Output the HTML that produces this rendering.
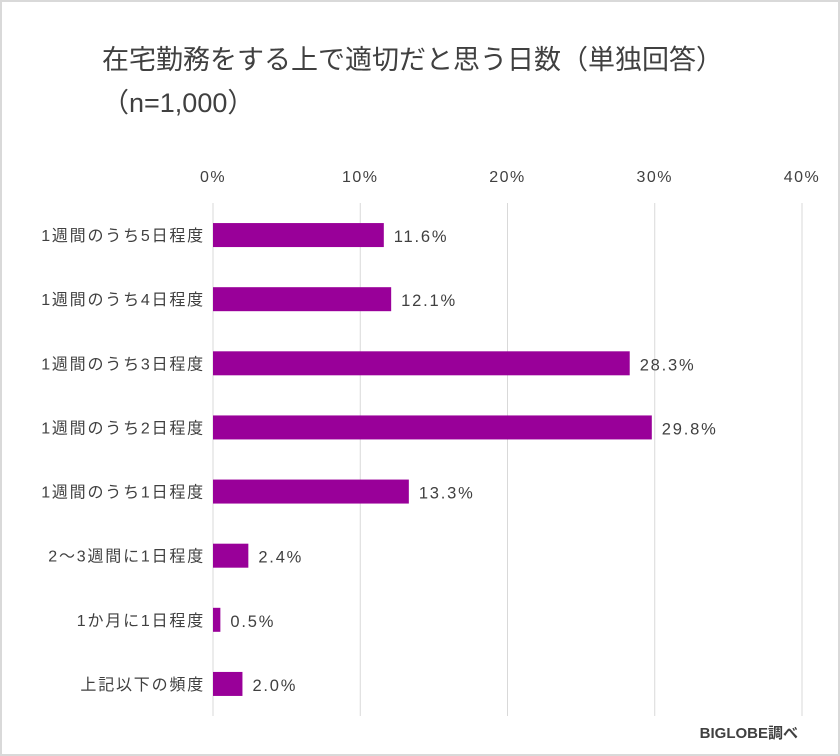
<!DOCTYPE html>
<html><head><meta charset="utf-8"><style>
body{margin:0;background:#fff}
#c{position:relative;width:836px;height:752px;border:2px solid #d9d9d9;background:#fff;font-family:"Liberation Sans","Noto Sans CJK JP",sans-serif;color:#404040}
svg{position:absolute;left:-2px;top:-2px}
text{font-family:"Liberation Sans","Noto Sans CJK JP",sans-serif}
</style></head><body>
<div id="c">
<svg id="s" width="840" height="756">
<text x="102" y="69" font-size="27" fill="#404040">在宅勤務をする上で適切だと思う日数（単独回答）</text>
<text x="102" y="112" font-size="27" fill="#404040">（n=1,000）</text>
<text x="798" y="738" font-size="15" font-weight="bold" fill="#404040" text-anchor="end">BIGLOBE調べ</text>
</svg></div>
<script>
const categories=["1週間のうち5日程度","1週間のうち4日程度","1週間のうち3日程度","1週間のうち2日程度","1週間のうち1日程度","2～3週間に1日程度","1か月に1日程度","上記以下の頻度"];
const values=[11.6,12.1,28.3,29.8,13.3,2.4,0.5,2.0];
const ticks=[0,10,20,30,40];
const tickLabels=["0%","10%","20%","30%","40%"];
const svgEl=document.getElementById('s');const NS="http://www.w3.org/2000/svg";
const x0=213,x1=802,plotTop=203,plotBot=716,maxV=40;
const xs=v=>x0+(x1-x0)*v/maxV;
const band=(plotBot-plotTop)/categories.length;
const yc=i=>plotTop+band*(i+0.5);
function mk(t,a){const e=document.createElementNS(NS,t);for(const k in a)e.setAttribute(k,a[k]);svgEl.appendChild(e);return e;}
ticks.forEach((t,i)=>{
 const l=mk('line',{x1:xs(t),x2:xs(t),y1:plotTop,y2:plotBot,stroke:'#d9d9d9','stroke-width':1});
 
 
 const tx=mk('text',{x:xs(t),y:182,'font-size':16,'letter-spacing':1.5,'text-anchor':'middle',fill:'#404040'});tx.textContent=tickLabels[i];
 
 
});
categories.forEach((c,i)=>{
 const y=yc(i);
 const r=mk('rect',{x:x0,y:y-12,width:xs(values[i])-x0,height:24,fill:'#990099'});
 
 
 const lb=mk('text',{x:205,y:y+6,'font-size':16,'letter-spacing':1.8,'text-anchor':'end',fill:'#404040'});lb.textContent=c;
 
 
 const vl=mk('text',{x:xs(values[i])+10,y:y+7,'font-size':16.5,'letter-spacing':1.8,fill:'#404040'});vl.textContent=values[i].toFixed(1)+'%';
 
 
});
</script>
</body></html>
